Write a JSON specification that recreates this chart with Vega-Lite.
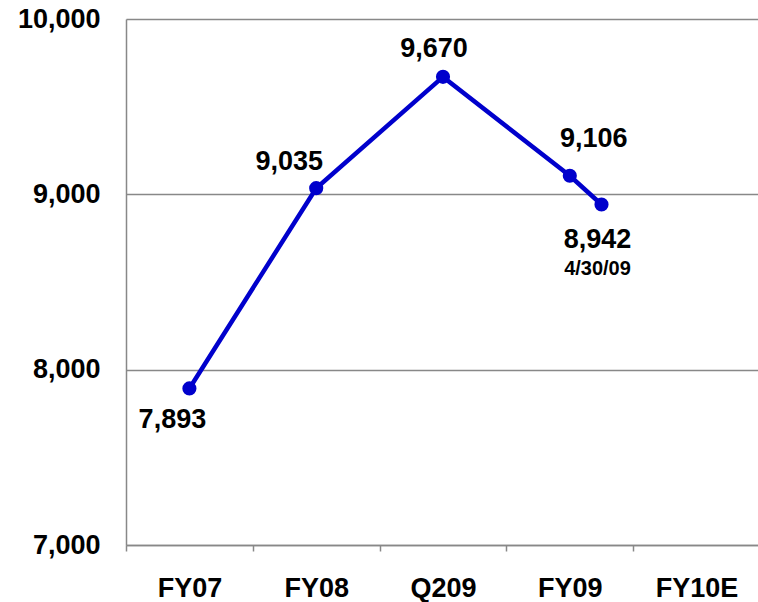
{
  "$schema": "https://vega.github.io/schema/vega-lite/v6.json",
  "width": 634,
  "height": 526,
  "autosize": {"type": "none"},
  "padding": {"left": 126, "top": 19, "right": 0, "bottom": 57},
  "background": "white",
  "config": {
    "view": {"stroke": null},
    "font": "Liberation Sans",
    "text": {"font": "Liberation Sans", "fontWeight": "bold", "fontSize": 27, "color": "black", "align": "center", "baseline": "middle"}
  },
  "data": {
    "values": [
      {"period": "FY07", "t": 0.5, "value": 7893},
      {"period": "FY08", "t": 1.5, "value": 9035},
      {"period": "Q209", "t": 2.5, "value": 9670},
      {"period": "FY09", "t": 3.5, "value": 9106},
      {"period": "4/30/09", "t": 3.75, "value": 8942}
    ]
  },
  "encoding": {
    "x": {
      "field": "t", "type": "quantitative",
      "scale": {"domain": [0, 5], "nice": false, "zero": false},
      "axis": {
        "title": null,
        "values": [0, 0.5, 1, 1.5, 2, 2.5, 3, 3.5, 4, 4.5, 5],
        "labelExpr": "datum.value == 0.5 ? 'FY07' : datum.value == 1.5 ? 'FY08' : datum.value == 2.5 ? 'Q209' : datum.value == 3.5 ? 'FY09' : datum.value == 4.5 ? 'FY10E' : ''",
        "grid": false,
        "domainColor": "#888888",
        "domainWidth": 1.5,
        "tickColor": "#888888",
        "tickWidth": 1.5,
        "tickSize": 6,
        "tickOpacity": {"condition": {"test": "datum.value % 1 !== 0", "value": 0}, "value": 1},
        "labelFont": "Liberation Sans",
        "labelFontWeight": "bold",
        "labelFontSize": 27,
        "labelColor": "black",
        "labelPadding": 24,
        "labelOverlap": false,
        "labelFlush": false
      }
    },
    "y": {
      "field": "value", "type": "quantitative",
      "scale": {"domain": [7000, 10000], "nice": false, "zero": false},
      "axis": {
        "title": null,
        "values": [7000, 8000, 9000, 10000],
        "format": ",.0f",
        "grid": true,
        "gridColor": "#888888",
        "gridWidth": 1.5,
        "domainColor": "#888888",
        "domainWidth": 1.5,
        "ticks": false,
        "labelFont": "Liberation Sans",
        "labelFontWeight": "bold",
        "labelFontSize": 27,
        "labelColor": "black",
        "labelPadding": 26,
        "labelOverlap": false,
        "labelFlush": false
      }
    }
  },
  "layer": [
    {"mark": {"type": "line", "color": "#0000CC", "strokeWidth": 4.5}},
    {"mark": {"type": "point", "filled": true, "opacity": 1, "color": "#0000CC", "size": 200}},
    {"transform": [{"filter": "datum.period == 'FY07'"}], "mark": {"type": "text", "dx": -17, "dy": 32}, "encoding": {"text": {"field": "value", "format": ",.0f"}}},
    {"transform": [{"filter": "datum.period == 'FY08'"}], "mark": {"type": "text", "dx": -27, "dy": -26}, "encoding": {"text": {"field": "value", "format": ",.0f"}}},
    {"transform": [{"filter": "datum.period == 'Q209'"}], "mark": {"type": "text", "dx": -9, "dy": -28}, "encoding": {"text": {"field": "value", "format": ",.0f"}}},
    {"transform": [{"filter": "datum.period == 'FY09'"}], "mark": {"type": "text", "dx": 24, "dy": -37}, "encoding": {"text": {"field": "value", "format": ",.0f"}}},
    {"transform": [{"filter": "datum.period == '4/30/09'"}], "mark": {"type": "text", "dx": -4, "dy": 35}, "encoding": {"text": {"field": "value", "format": ",.0f"}}},
    {"transform": [{"filter": "datum.period == '4/30/09'"}], "mark": {"type": "text", "dx": -4, "dy": 64, "fontSize": 20}, "encoding": {"text": {"field": "period"}}}
  ]
}
